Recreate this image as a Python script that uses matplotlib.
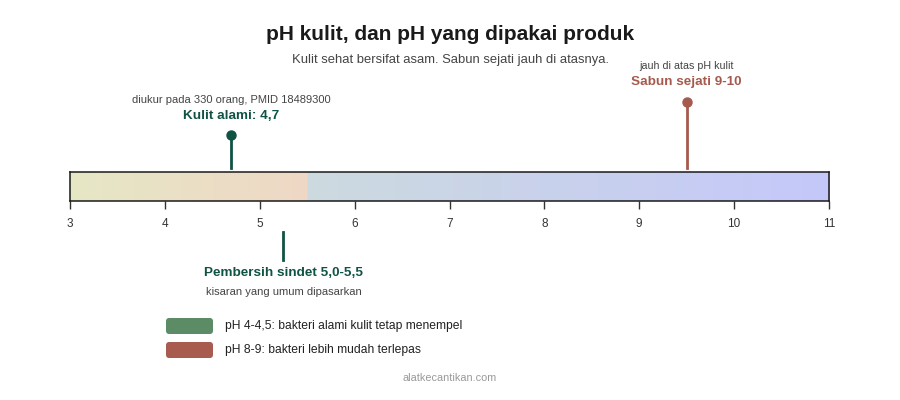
import numpy as np
import matplotlib
matplotlib.use("Agg")
import matplotlib.pyplot as plt
import matplotlib.transforms as mtransforms
from matplotlib.patches import FancyBboxPatch

plt.rcParams["font.family"] = ["Liberation Sans", "DejaVu Sans"]

# data
ph_min, ph_max = 3, 11
ph_ticks = [3, 4, 5, 6, 7, 8, 9, 10, 11]
acid_split = 5.5
skin_ph = 4.7
soap_ph = 9.5
syndet_range = [5.0, 5.5]
legend_labels = ["pH 4-4,5: bakteri alami kulit tetap menempel",
                 "pH 8-9: bakteri lebih mudah terlepas"]

GREEN = "#0f5345"
RED = "#a65a4d"

fig = plt.figure(figsize=(9, 4), dpi=100)

# overlay axes in pixel units for text and layout
ov = fig.add_axes([0, 0, 1, 1])
ov.set_xlim(0, 900)
ov.set_ylim(400, 0)
ov.axis("off")

# the pH bar
ax = fig.add_axes([70 / 900, 1 - 201 / 400, 759 / 900, 29 / 400])
ax.set_xlim(ph_min, ph_max)
ax.set_ylim(0, 1)
xs = np.linspace(ph_min, ph_max, 800)
left_a, left_b = np.array([230, 231, 197]), np.array([239, 216, 197])
right_a, right_b = np.array([205, 218, 223]), np.array([196, 200, 250])
cols = []
for x in xs:
    if x < acid_split:
        t = (x - ph_min) / (acid_split - ph_min)
        cols.append(left_a + (left_b - left_a) * t)
    else:
        t = (x - acid_split) / (ph_max - acid_split)
        cols.append(right_a + (right_b - right_a) * t)
img = np.array(cols)[None, :, :] / 255
ax.imshow(img, extent=(ph_min, ph_max, 0, 1), aspect="auto")
ax.set_xticks(ph_ticks)
ax.set_xticklabels([str(t) for t in ph_ticks])
ax.set_yticks([])
ax.tick_params(axis="x", direction="out", length=6, width=1, color="#333333",
               labelsize=8.5, labelcolor="#333333", pad=6)
for s in ax.spines.values():
    s.set_color("#1a1a1a")
    s.set_linewidth(1.1)

# x in pH, y in pixels
tr = mtransforms.blended_transform_factory(ax.transData, ov.transData)

# skin marker
ov.plot([skin_ph, skin_ph], [135, 168], color=GREEN, lw=2, transform=tr)
ov.plot([skin_ph], [135], "o", color=GREEN, ms=6.5, transform=tr)
ov.text(skin_ph, 100, "diukur pada 330 orang, PMID 18489300", transform=tr,
        ha="center", va="center", fontsize=8, color="#444444")
ov.text(skin_ph, 116, "Kulit alami: " + str(skin_ph).replace(".", ","), transform=tr,
        ha="center", va="center", fontsize=9.7, fontweight="bold", color=GREEN)

# soap marker
ov.plot([soap_ph, soap_ph], [102, 168], color=RED, lw=2, transform=tr)
ov.plot([soap_ph], [102], "o", color=RED, ms=6.5, transform=tr)
ov.text(soap_ph, 66, "jauh di atas pH kulit", transform=tr,
        ha="center", va="center", fontsize=7.7, color="#444444")
ov.text(soap_ph, 82, "Sabun sejati 9-10", transform=tr,
        ha="center", va="center", fontsize=9.7, fontweight="bold", color=RED)

# syndet marker
syn_mid = sum(syndet_range) / 2
ov.plot([syn_mid, syn_mid], [232, 260], color=GREEN, lw=2, transform=tr)
ov.text(syn_mid, 273, "Pembersih sindet 5,0-5,5", transform=tr,
        ha="center", va="center", fontsize=9.7, fontweight="bold", color=GREEN)
ov.text(syn_mid, 292, "kisaran yang umum dipasarkan", transform=tr,
        ha="center", va="center", fontsize=8, color="#444444")

# titles
ov.text(450, 35, "pH kulit, dan pH yang dipakai produk", ha="center", va="center",
        fontsize=15, fontweight="bold", color="#1a1a1a")
ov.text(450, 60, "Kulit sehat bersifat asam. Sabun sejati jauh di atasnya.",
        ha="center", va="center", fontsize=9.4, color="#444444")

# legend
leg_colors = ["#5b8c65", "#a85c50"]
for i, (lab, c) in enumerate(zip(legend_labels, leg_colors)):
    yc = 326 + i * 24
    ov.add_patch(FancyBboxPatch((166, yc - 8), 47, 16,
                                boxstyle="round,pad=0,rounding_size=3",
                                fc=c, ec="none"))
    ov.text(225, yc, lab, ha="left", va="center", fontsize=8.7, color="#222222")

ov.text(450, 378, "alatkecantikan.com", ha="center", va="center",
        fontsize=7.8, color="#999999")

fig.savefig("out.png", dpi=100, facecolor="white")
